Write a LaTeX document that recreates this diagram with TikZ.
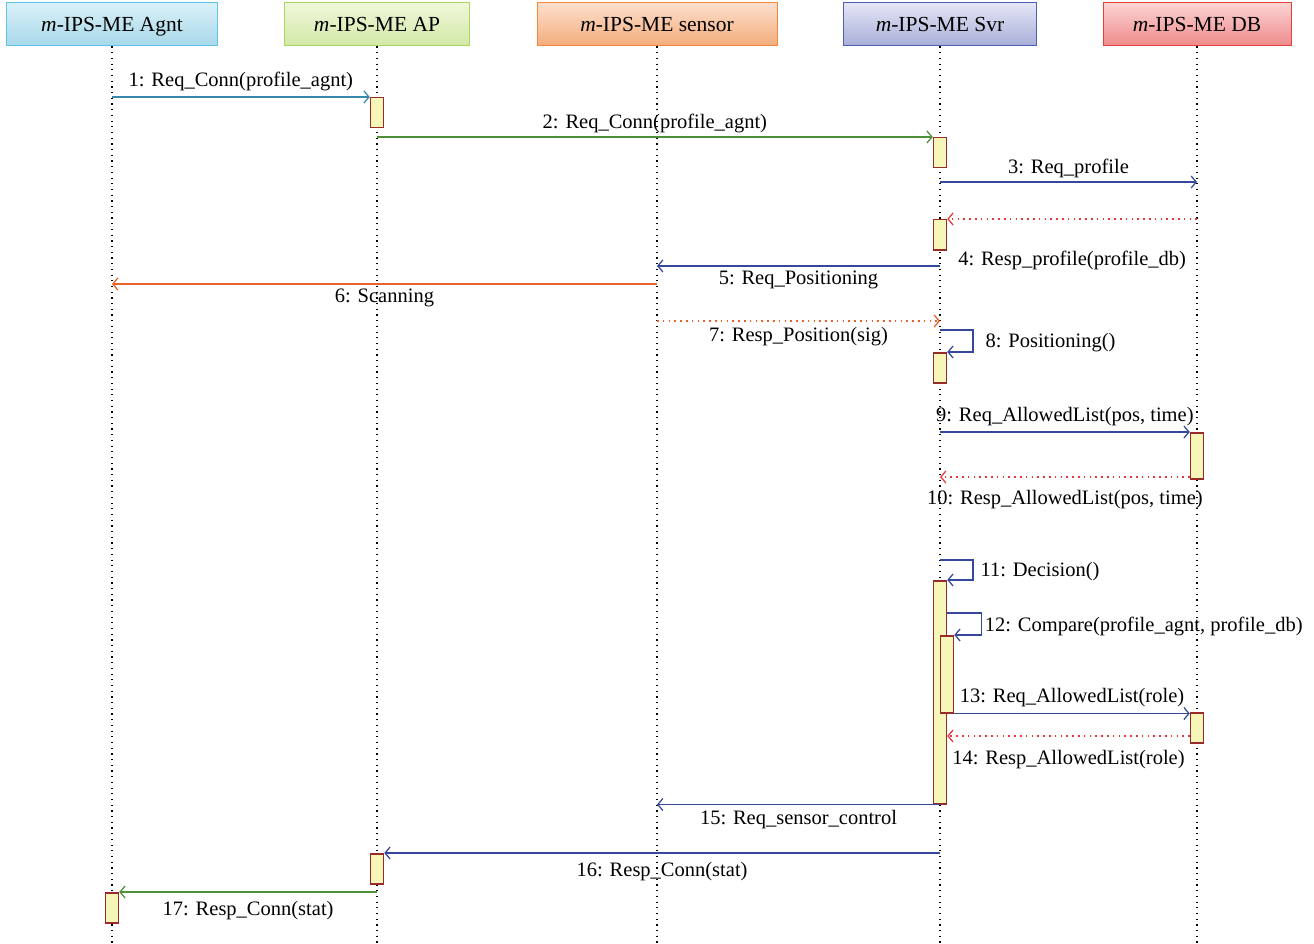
\documentclass[tikz,border=0pt]{standalone}
\usepackage{fontspec}
\setmainfont{Liberation Serif}
\usepackage{tikz}
\usetikzlibrary{arrows.meta,positioning}

\definecolor{agntline}{HTML}{5EC3EA}
\definecolor{agnttop}{HTML}{DAF0F8}
\definecolor{agntbot}{HTML}{A6D8EA}
\definecolor{apline}{HTML}{A9D65E}
\definecolor{aptop}{HTML}{EFF7DB}
\definecolor{apbot}{HTML}{D2E8A5}
\definecolor{sensline}{HTML}{F4873A}
\definecolor{senstop}{HTML}{FCDFCC}
\definecolor{sensbot}{HTML}{F4AC7C}
\definecolor{svrline}{HTML}{4B5FB8}
\definecolor{svrtop}{HTML}{E4E6F5}
\definecolor{svrbot}{HTML}{A8AED8}
\definecolor{dbline}{HTML}{E5413A}
\definecolor{dbtop}{HTML}{FBD3D3}
\definecolor{dbbot}{HTML}{EE8A8A}
\definecolor{actline}{HTML}{992B2B}
\definecolor{actfill}{HTML}{F6F6B9}
\definecolor{msgteal}{HTML}{3A88B0}
\definecolor{msggreen}{HTML}{4E8F3A}
\definecolor{msgblue}{HTML}{34489E}
\definecolor{msgred}{HTML}{E8363A}
\definecolor{msgorange}{HTML}{E8622A}

\begin{document}
\begin{tikzpicture}[x=1pt, y=-1pt,
  head/.style={rectangle, draw, line width=1pt, minimum height=43pt, inner sep=0pt,
               text height=15pt, text depth=0pt, font=\fontsize{21.5}{25}\selectfont},
  act/.style={rectangle, draw=actline, fill=actfill, line width=1.5pt, minimum width=13pt,
              inner sep=0pt, anchor=north},
  life/.style={line width=1.2pt, dash pattern=on 1.2pt off 4.5pt},
  msg/.style={-{Straight Barb[length=5pt,width=12pt]}, line width=1.25pt},
  ret/.style={msg, dash pattern=on 1.6pt off 4.2pt},
  lbl/.style={font=\fontsize{20.5}{24}\selectfont, inner sep=2pt, text=black},
]
  \useasboundingbox (0,0) rectangle (1314,944);

  % Lifeline heads
  \node[head, minimum width=211pt, draw=agntline, top color=agnttop, bottom color=agntbot]
    (agnt) at (112,24.5) {\textit{m}-IPS-ME Agnt};
  \node[head, minimum width=185pt, draw=apline, top color=aptop, bottom color=apbot]
    (ap) at (377,24.5) {\textit{m}-IPS-ME AP};
  \node[head, minimum width=240pt, draw=sensline, top color=senstop, bottom color=sensbot]
    (sensor) at (657,24.5) {\textit{m}-IPS-ME sensor};
  \node[head, minimum width=193pt, draw=svrline, top color=svrtop, bottom color=svrbot]
    (svr) at (940,24.5) {\textit{m}-IPS-ME Svr};
  \node[head, minimum width=188pt, draw=dbline, top color=dbtop, bottom color=dbbot]
    (db) at (1197,24.5) {\textit{m}-IPS-ME DB};

  % Lifelines
  \foreach \who in {agnt, ap, sensor, svr, db}
    \draw[life] (\who.south) -- (\who |- 0,944);

  % Activations
  \node[act, minimum height=30pt]  (a1)  at (377,97)  {};
  \node[act, minimum height=30pt]  (a2)  at (940,137) {};
  \node[act, minimum height=30pt]  (a4)  at (940,219) {};
  \node[act, minimum height=30pt]  (a8)  at (940,352) {};
  \node[act, minimum height=46pt]  (a9)  at (1197,432) {};
  \node[act, minimum height=223pt] (a11) at (940,580) {};
  \node[act, minimum height=77pt]  (a12) at (947,635) {};
  \node[act, minimum height=30pt]  (a13) at (1197,712) {};
  \node[act, minimum height=30pt]  (a16) at (377,853) {};
  \node[act, minimum height=30pt]  (a17) at (112,892) {};

  % Messages
  \draw[msg, msgteal] (agnt |- a1.north) -- node[lbl, above=3pt] {1: Req\_Conn(profile\_agnt)} (a1.north west);
  \draw[msg, msggreen] (ap |- a2.north) -- node[lbl, above=1pt] {2: Req\_Conn(profile\_agnt)} (a2.north west);
  \draw[msg, msgblue] (svr |- 0,182) -- node[lbl, above=2pt] {3: Req\_profile} (db |- 0,182);
  \draw[ret, msgred] (db |- a4.north) -- node[lbl, below=29pt] {4: Resp\_profile(profile\_db)} (a4.north east);
  \draw[msg, msgblue] (svr |- 0,266) -- node[lbl, below=2pt] {5: Req\_Positioning} (sensor |- 0,266);
  \draw[msg, msgorange] (sensor |- 0,284) -- node[lbl, below=2pt] {6: Scanning} (agnt |- 0,284);
  \draw[ret, msgorange] (sensor |- 0,321) -- node[lbl, below=4pt] {7: Resp\_Position(sig)} (svr |- 0,321);
  \draw[msg, msgblue] (svr |- 0,330) -- ++(33,0) |- node[lbl, right=10pt, pos=0.25, yshift=-2pt] {8: Positioning()} (a8.north east);
  \draw[msg, msgblue] (svr |- a9.north) -- node[lbl, above=4pt] {9: Req\_AllowedList(pos, time)} (a9.north west);
  \draw[ret, msgred] (a9.west |- 0,477) -- node[lbl, below=11pt] {10: Resp\_AllowedList(pos, time)} (svr |- 0,477);
  \draw[msg, msgblue] (svr |- 0,560) -- ++(33,0) |- node[lbl, right=5pt, pos=0.25, yshift=-2pt] {11: Decision()} (a11.north east);
  \draw[msg, msgblue] (a11.east |- 0,613) -- ++(34,0) |- node[lbl, right=1pt, pos=0.25, yshift=-2pt] {12: Compare(profile\_agnt, profile\_db)} (a12.north east);
  \draw[msg, msgblue] (a12.south east) -- node[lbl, above=4pt] {13: Req\_AllowedList(role)} (a12.south east -| a13.west);
  \draw[ret, msgred] (a13.west |- 0,736) -- node[lbl, below=12pt] {14: Resp\_AllowedList(role)} (a11.east |- 0,736);
  \draw[msg, msgblue] (a11.south) -- node[lbl, below=3pt] {15: Req\_sensor\_control} (sensor |- a11.south);
  \draw[msg, msgblue] (svr |- a16.north) -- node[lbl, below=7pt] {16: Resp\_Conn(stat)} (a16.north east);
  \draw[msg, msggreen] (ap |- a17.north) -- node[lbl, below=7pt] {17: Resp\_Conn(stat)} (a17.north east);
\end{tikzpicture}
\end{document}
